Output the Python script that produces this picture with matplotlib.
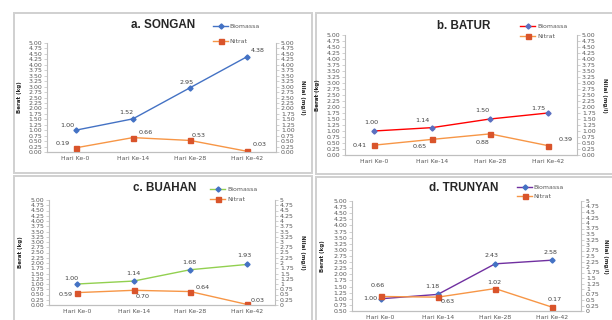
import matplotlib.pyplot as plt
from matplotlib.patches import Rectangle
from matplotlib.ticker import FormatStrFormatter, FuncFormatter
import numpy as np

W, H = 612, 320

days = ["Hari Ke-0", "Hari Ke-14", "Hari Ke-28", "Hari Ke-42"]

songan_bio = [1.00, 1.52, 2.95, 4.38]
songan_nit = [0.19, 0.66, 0.53, 0.03]
batur_bio = [1.00, 1.14, 1.50, 1.75]
batur_nit = [0.41, 0.65, 0.88, 0.39]
buahan_bio = [1.00, 1.14, 1.68, 1.93]
buahan_nit = [0.59, 0.70, 0.64, 0.03]
trunyan_bio = [1.00, 1.18, 2.43, 2.58]
trunyan_nit = [0.66, 0.63, 1.02, 0.17]

NIT_LINE = "#F79646"
NIT_MARK = "#D9542B"
GRID_GRAY = "#BFBFBF"
TXT = "#404040"


def fx(px):
    return px / W


def fy(py):
    return 1 - py / H


def general(v, pos):
    return f"{v:g}"


panels = [
    dict(title="a. SONGAN", bio=songan_bio, nit=songan_nit,
         box=(14, 13, 312, 173), ax=(47, 43, 276, 152),
         title_xy=(163, 25), leg=(213, 24, 1.5),
         bio_line="#4472C4", bio_mark="#4472C4",
         left_lim=(0, 5), left_fmt="%.2f", right_fmt="%.2f",
         ylab_l=22, ylab_r=305,
         bio_off=[(-8, 5), (-7, 6), (-4, 5), (10, 6)],
         nit_off=[(-13, 4), (13, 5), (8, 5), (12, 7)]),
    dict(title="b. BATUR", bio=batur_bio, nit=batur_nit,
         box=(316, 13, 660, 174), ax=(345, 35, 577, 155),
         title_xy=(464, 26), leg=(520, 24, 0.75),
         bio_line="#FF0000", bio_mark="#5B6FC0",
         left_lim=(0, 5), left_fmt="%.2f", right_fmt="%.2f",
         ylab_l=320, ylab_r=607,
         bio_off=[(-3, 8), (-10, 7), (-8, 9), (-10, 5)],
         nit_off=[(-14, 0), (-12, -7), (-8, -9), (18, 6)]),
    dict(title="c. BUAHAN", bio=buahan_bio, nit=buahan_nit,
         box=(14, 176, 312, 345), ax=(49, 200, 275, 305),
         title_xy=(165, 188), leg=(210, 187, 0.75),
         bio_line="#92D050", bio_mark="#4472C4",
         left_lim=(0, 5), left_fmt="%.2f", right_fmt=None,
         ylab_l=23, ylab_r=305,
         bio_off=[(-6, 6), (0, 8), (-1, 7), (-2, 9)],
         nit_off=[(-12, -2), (9, -6), (12, 4), (11, 4)]),
    dict(title="d. TRUNYAN", bio=trunyan_bio, nit=trunyan_nit,
         box=(316, 177, 660, 345), ax=(352, 201, 581, 311),
         title_xy=(464, 188), leg=(517, 185, 0.6),
         bio_line="#7030A0", bio_mark="#4472C4",
         left_lim=(0.5, 5), left_fmt="%.2f", right_fmt=None,
         ylab_l=325, ylab_r=608,
         bio_off=[(-10, 0), (-6, 8), (-4, 8), (-2, 8)],
         nit_off=[(-3, 11), (10, -4), (-1, 6), (2, 8)]),
]

fig = plt.figure(figsize=(W / 100, H / 100), dpi=100)
fig.patch.set_facecolor("white")

x = np.arange(len(days))

for p in panels:
    # grey frame around each chart
    bl, bt, br, bb = p["box"]
    fig.patches.append(Rectangle((fx(bl), fy(bb)), fx(br - bl), (bb - bt) / H,
                                 transform=fig.transFigure, facecolor="white",
                                 edgecolor="#D0D0D0", linewidth=1.4, zorder=-5))

    l, t, r, b = p["ax"]
    ax = fig.add_axes([fx(l), fy(b), fx(r - l), (b - t) / H])
    ax2 = ax.twinx()

    h1, = ax.plot(x, p["bio"], color=p["bio_line"], lw=1.0, marker="D",
                  ms=2.6, mfc=p["bio_mark"], mec=p["bio_mark"], label="Biomassa")
    h2, = ax2.plot(x, p["nit"], color=NIT_LINE, lw=1.0, marker="s",
                   ms=3.6, mfc=NIT_MARK, mec=NIT_MARK, label="Nitrat")

    for xi, v, off in zip(x, p["bio"], p["bio_off"]):
        ax.annotate(f"{v:.2f}", (xi, v), xytext=off, textcoords="offset pixels",
                    ha="center", va="center", fontsize=4.6, color=TXT)
    for xi, v, off in zip(x, p["nit"], p["nit_off"]):
        ax2.annotate(f"{v:.2f}", (xi, v), xytext=off, textcoords="offset pixels",
                     ha="center", va="center", fontsize=4.6, color=TXT)

    ax.set_xlim(-0.5, 3.5)
    ax.set_ylim(*p["left_lim"])
    ax2.set_ylim(0, 5)
    ax.set_yticks(np.arange(p["left_lim"][0], 5.001, 0.25))
    ax2.set_yticks(np.arange(0, 5.001, 0.25))
    ax.yaxis.set_major_formatter(FormatStrFormatter(p["left_fmt"]))
    if p["right_fmt"]:
        ax2.yaxis.set_major_formatter(FormatStrFormatter(p["right_fmt"]))
    else:
        ax2.yaxis.set_major_formatter(FuncFormatter(general))

    ax.set_xticks(x)
    ax.set_xticklabels(days)

    for a in (ax, ax2):
        a.set_facecolor("none")
        a.spines["top"].set_visible(False)
        for s in ("left", "right", "bottom"):
            a.spines[s].set_color(GRID_GRAY)
            a.spines[s].set_linewidth(0.8)
        a.tick_params(axis="y", labelsize=4.5, colors=GRID_GRAY, labelcolor="#595959",
                      length=2, width=0.5, pad=1.5)
    ax.tick_params(axis="x", labelsize=4.4, labelcolor="#595959", length=0, pad=3)
    ax2.spines["left"].set_visible(False)
    ax.spines["right"].set_visible(False)

    ax.set_ylabel("Berat (kg)", fontsize=4, fontweight="bold", color="#262626")
    ax.yaxis.set_label_coords((p["ylab_l"] - l) / (r - l), 0.5)
    ax2.set_ylabel("Nilai (mg/l)", fontsize=4, fontweight="bold", color="#262626",
                   rotation=270)
    ax2.yaxis.set_label_coords((p["ylab_r"] - l) / (r - l), 0.5)

    fig.text(fx(p["title_xy"][0]), fy(p["title_xy"][1]), p["title"],
             ha="center", va="center", fontsize=8.4, fontweight="bold",
             family="Liberation Sans", color="#262626")

    lx, ly, sp = p["leg"]
    ax2.legend([h1, h2], ["Biomassa", "Nitrat"], loc="upper left",
               bbox_to_anchor=(fx(lx), fy(ly)), bbox_transform=fig.transFigure,
               frameon=False, borderpad=0, borderaxespad=0, handlelength=2.4,
               handletextpad=0.3, fontsize=4.5, labelspacing=sp,
               labelcolor="#595959")

fig.savefig("out.png", dpi=100)
